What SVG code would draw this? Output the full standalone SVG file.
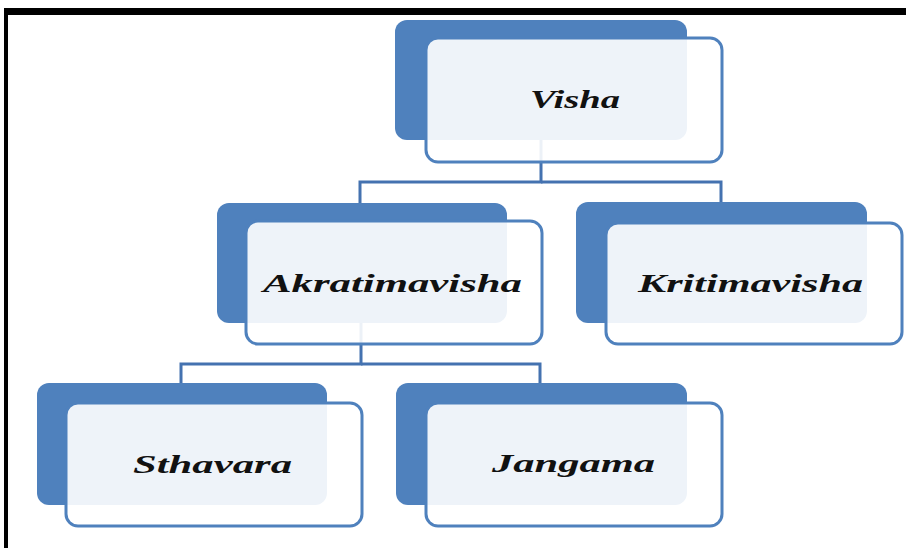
<svg xmlns="http://www.w3.org/2000/svg" width="906" height="548" viewBox="0 0 906 548">
<style>
.back{fill:#4F81BD;}
.front{fill:#FFFFFF;fill-opacity:0.9;stroke:#4F81BD;stroke-width:3;}
.lbl{font-family:"Liberation Serif","Times New Roman",serif;font-weight:bold;font-style:italic;font-size:26px;fill:#111111;}
.conn{fill:none;stroke:#4472B0;stroke-width:3;}
</style>
<rect x="0" y="0" width="906" height="548" fill="#FFFFFF"/>
<rect x="4" y="8" width="902" height="7" fill="#000000"/>
<rect x="4" y="8" width="4" height="540" fill="#000000"/>
<g id="connectors">
<polyline class="conn" points="541,140 541,182 360,182 360,205"/>
<polyline class="conn" points="541,182 721,182 721,205"/>
<polyline class="conn" points="361,320 361,364 181,364 181,385"/>
<polyline class="conn" points="361,364 540,364 540,385"/>
</g>
<g id="visha">
<rect class="back" x="395" y="20" width="292" height="120" rx="12"/>
<rect class="front" x="426" y="38" width="296" height="124" rx="12"/>
<text class="lbl" x="530" y="108" textLength="90" lengthAdjust="spacingAndGlyphs">Visha</text>
</g>
<g id="akratimavisha">
<rect class="back" x="217" y="203" width="290" height="120" rx="12"/>
<rect class="front" x="246" y="221" width="296" height="123" rx="12"/>
<text class="lbl" x="263" y="292" textLength="259" lengthAdjust="spacingAndGlyphs">Akratimavisha</text>
</g>
<g id="kritimavisha">
<rect class="back" x="576" y="202" width="291" height="121" rx="12"/>
<rect class="front" x="606" y="223" width="296" height="121" rx="12"/>
<text class="lbl" x="638" y="292" textLength="225" lengthAdjust="spacingAndGlyphs">Kritimavisha</text>
</g>
<g id="sthavara">
<rect class="back" x="37" y="383" width="290" height="122" rx="12"/>
<rect class="front" x="66" y="403" width="296" height="123" rx="12"/>
<text class="lbl" x="133" y="473" textLength="159" lengthAdjust="spacingAndGlyphs">Sthavara</text>
</g>
<g id="jangama">
<rect class="back" x="396" y="383" width="291" height="122" rx="12"/>
<rect class="front" x="426" y="403" width="296" height="123" rx="12"/>
<text class="lbl" x="492" y="472" textLength="163" lengthAdjust="spacingAndGlyphs">Jangama</text>
</g>
</svg>
